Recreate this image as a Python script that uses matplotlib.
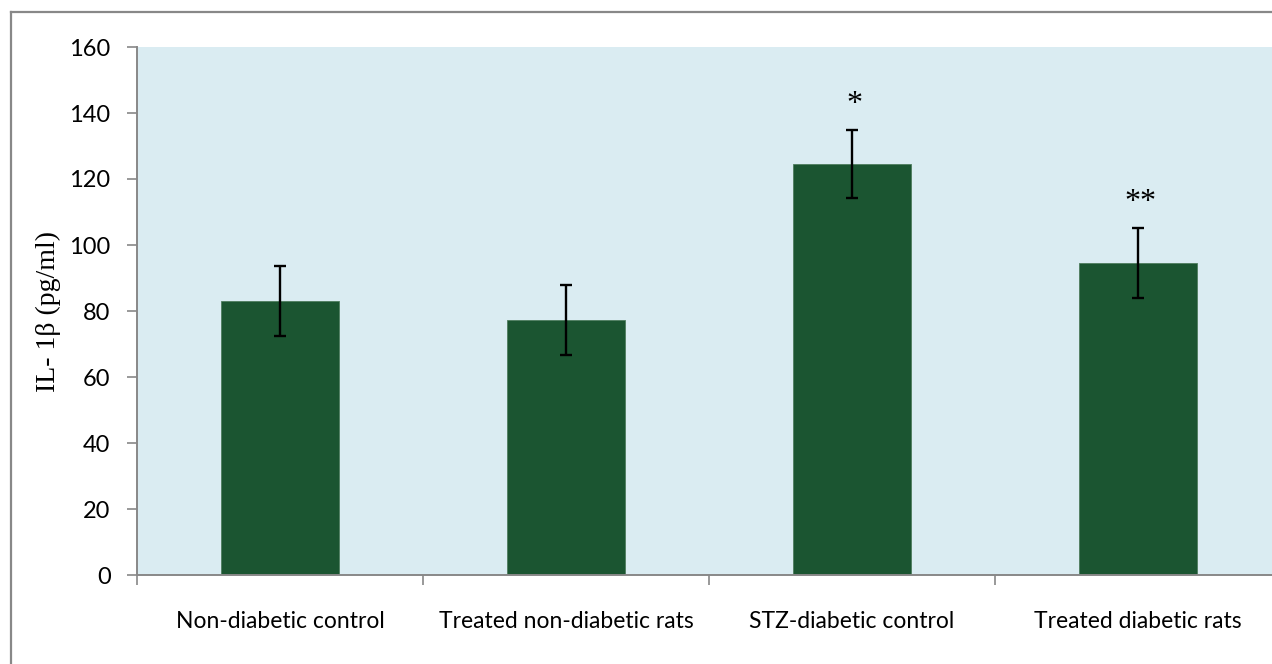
import matplotlib
matplotlib.use("Agg")
import matplotlib.pyplot as plt
from matplotlib.lines import Line2D

categories = ["Non-diabetic control", "Treated non-diabetic rats",
              "STZ-diabetic control", "Treated diabetic rats"]
means = [83.0, 77.2, 124.4, 94.6]
errors = [10.6, 10.6, 10.3, 10.6]
marks = ["", "", "*", "**"]
mark_y = [None, None, 142.5, 113.0]
yticks = [0, 20, 40, 60, 80, 100, 120, 140, 160]

W, H = 1272, 664
fig = plt.figure(figsize=(W / 100, H / 100), dpi=100)
fig.patch.set_facecolor("white")

ax = fig.add_axes([137 / W, (H - 575) / H, 1144 / W, 528 / H])
ax.set_facecolor("#daecf2")
x = list(range(len(categories)))
ax.bar(x, means, width=0.41, color="#1b5531", edgecolor="#4e7d5e", linewidth=0.6, zorder=2)
ax.errorbar(x, means, yerr=errors, fmt="none", ecolor="black", elinewidth=1.7,
            capsize=4.5, capthick=1.7, zorder=3)
for xi, m, my in zip(x, marks, mark_y):
    if m:
        ax.text(xi + 0.01, my, m, ha="center", va="center", fontsize=23,
                family="Liberation Serif", color="black")

ax.set_xlim(-0.5, 3.5)
ax.set_ylim(0, 160)
ax.set_yticks(yticks)
ax.set_yticklabels([str(v) for v in yticks], family="Lato", fontsize=17)
ax.set_xticks(x)
ax.set_xticklabels(categories, family="Lato", fontsize=16.5)
ax.set_xticks([-0.5, 0.5, 1.5, 2.5], minor=True)
ax.tick_params(axis="x", which="major", length=0, pad=26)
ax.tick_params(axis="x", which="minor", length=7, width=1.2, color="#888888", direction="out")
ax.tick_params(axis="y", length=7, width=1.2, color="#888888", direction="out", pad=12)

for s in ["top", "right"]:
    ax.spines[s].set_visible(False)
for s in ["left", "bottom"]:
    ax.spines[s].set_color("#888888")
    ax.spines[s].set_linewidth(1.4)

ax.set_ylabel("IL- 1β (pg/ml)", family="Liberation Serif", fontsize=20, labelpad=6)

# outer chart border (cropped at right and bottom)
fig.add_artist(Line2D([11 / W, 11 / W], [0, 1 - 12 / H], transform=fig.transFigure,
                      color="#888888", linewidth=1.6))
fig.add_artist(Line2D([11 / W, 1], [1 - 12 / H, 1 - 12 / H], transform=fig.transFigure,
                      color="#888888", linewidth=1.6))

fig.savefig("out.png", dpi=100)
